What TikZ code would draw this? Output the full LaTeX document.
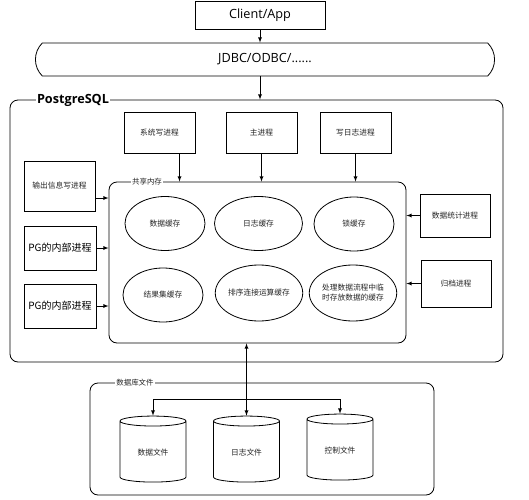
\documentclass[tikz,border=0pt]{standalone}
\usepackage{fontspec}
\setmainfont{Open Sans}
\newfontfamily\cjk{Noto Sans CJK SC}
\usetikzlibrary{arrows,shapes.geometric,shapes.misc,positioning}
\tikzset{
    client/.style = {rectangle,
                    fill=white,
                    draw=black,
                    text=black,
                    line width=0.6pt,
                    font=\fontsize{9.5}{11}\selectfont,
                    minimum width=97.5pt,
                    minimum height=21pt},
    bus/.style =    {rounded rectangle,
                    rounded rectangle arc length=90,
                    fill=white,
                    draw=black,
                    text=black,
                    line width=0.6pt,
                    font=\fontsize{9.5}{11}\selectfont,
                    minimum width=351pt,
                    minimum height=24.75pt},
    frame/.style =  {rectangle,
                    rounded corners=6pt,
                    draw=black,
                    line width=0.6pt},
    tag/.style =    {fill=white,
                    text=black!85,
                    inner sep=1pt,
                    font=\cjk\fontsize{5.6}{7}\selectfont},
    proc/.style =   {rectangle,
                    fill=white,
                    draw=black,
                    text=black!85,
                    line width=0.6pt,
                    align=center,
                    font=\cjk\fontsize{5.8}{7}\selectfont,
                    minimum width=53.25pt,
                    minimum height=30.75pt},
    pgproc/.style = {proc,
                    text=black,
                    font=\cjk\fontsize{7.5}{9}\selectfont},
    cache/.style =  {ellipse,
                    draw=black,
                    text=black!85,
                    line width=0.6pt,
                    inner sep=0pt,
                    align=center,
                    font=\cjk\fontsize{5.8}{7.5}\selectfont,
                    minimum width=60pt,
                    minimum height=40.5pt},
    store/.style =  {cylinder,
                    shape border rotate=90,
                    aspect=0.25,
                    fill=white,
                    draw=black,
                    text=black!85,
                    line width=0.6pt,
                    font=\cjk\fontsize{5.8}{7}\selectfont,
                    minimum width=49.5pt,
                    minimum height=49.5pt},
    -,
    >=latex,
    line width=0.6pt
}

\begin{document}
\begin{tikzpicture}[x=0.75pt,y=-0.75pt]
    \useasboundingbox (0,0) rectangle (529,500);
    % client side
    \node[client]   (app)  at (260,15)    {Client/App};
    \node[bus]      (jdbc) at (265,59.5)  {JDBC/ODBC/......};
    % server
    \node[frame,minimum width=369.75pt,minimum height=196.5pt] (pg) at (256.5,231) {};
    \node[fill=white,inner sep=1pt,font=\bfseries\fontsize{9.5}{11}\selectfont] (pglabel) at (73,100) {PostgreSQL};
    \node[proc]     (sysw) at (159.5,132.5) {系统写进程};
    \node[proc]     (mainp) at (261.5,132.5) {主进程};
    \node[proc]     (walw) at (355.5,132.5) {写日志进程};
    \node[frame,minimum width=222.75pt,minimum height=120.75pt] (shm) at (257.5,262.5) {};
    \node[tag]      (shmlabel) at (147,182) {共享内存};
    \node[cache]    (dbuf) at (165,223.5) {数据缓存};
    \node[cache,minimum width=66pt] (lbuf) at (258.5,223.5) {日志缓存};
    \node[cache]    (lockbuf) at (354,224) {锁缓存};
    \node[cache]    (rbuf) at (163,295) {结果集缓存};
    \node[cache,minimum height=42pt] (sbuf) at (259,293) {排序连接运算缓存};
    \node[cache,minimum width=57pt,minimum height=42pt] (tbuf) at (353,293) {处理数据流程中临\\时存放数据的缓存};
    \node[proc,minimum height=37.5pt] (outw) at (59.5,186) {输出信息写进程};
    \node[pgproc,minimum width=52.5pt,minimum height=33pt] (pga) at (60,248) {PG的内部进程};
    \node[pgproc,minimum width=52.5pt,minimum height=33pt] (pgb) at (60,306) {PG的内部进程};
    \node[proc,minimum width=52.5pt,minimum height=32.25pt] (stat) at (455,215.5) {数据统计进程};
    \node[proc,minimum width=52.5pt,minimum height=35.25pt] (arch) at (456,283.5) {归档进程};
    % files
    \node[frame,minimum width=258pt,minimum height=84pt] (db) at (262,439) {};
    \node[tag]      (dblabel) at (135,383) {数据库文件};
    \node[store]    (dfile) at (153,453) {数据文件};
    \node[store]    (lfile) at (246.5,453) {日志文件};
    \node[store]    (cfile) at (340,451) {控制文件};
    \coordinate (fork) at (246.5,399);

    \draw[->] (app.south) -- (app.south |- jdbc.north);
    \draw[->] (app.south |- jdbc.south) -- (app.south |- pg.north);
    \draw[->] ([xshift=15pt]sysw.south) -- ([xshift=15pt]sysw.south |- shm.north);
    \draw[->] (mainp.south) -- (mainp.south |- shm.north);
    \draw[->] (walw.south) -- (walw.south |- shm.north);
    \draw[->] ([yshift=-9pt]outw.east) -- ([yshift=-9pt]outw.east -| shm.west);
    \draw[->] (pga.east) -- (pga.east -| shm.west);
    \draw[->] (pgb.east) -- (pgb.east -| shm.west);
    \draw[->] (stat.west) -- (stat.west -| shm.east);
    \draw[->] (arch.west) -- (arch.west -| shm.east);
    \draw[<->] (lfile.north |- shm.south) -- (lfile.north);
    \draw[->] (fork) -| (dfile.north);
    \draw[->] (fork) -| (cfile.north);
\end{tikzpicture}
\end{document}
